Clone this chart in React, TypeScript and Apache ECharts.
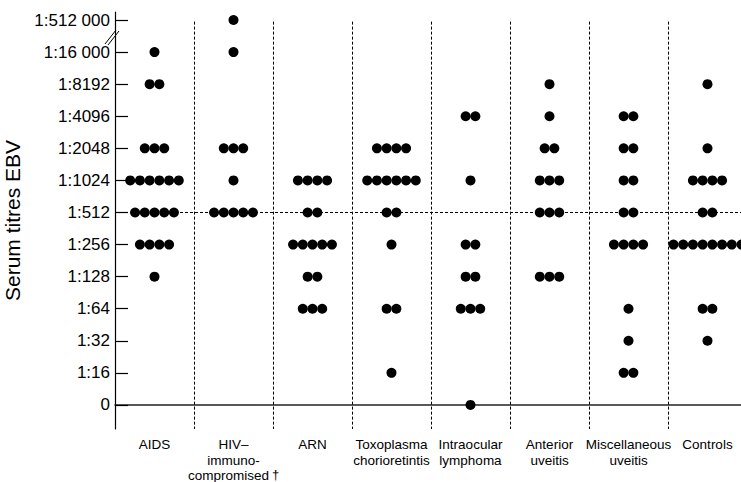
import React, { useEffect, useRef } from "react";
import * as echarts from "echarts";

// Titre levels (bottom to top)
const titreLabels = [
  "0", "1:16", "1:32", "1:64", "1:128", "1:256", "1:512",
  "1:1024", "1:2048", "1:4096", "1:8192", "1:16 000", "1:512 000",
];

const groupLabels = [
  "AIDS",
  "HIV–\nimmuno-\ncompromised{sup|†}",
  "ARN",
  "Toxoplasma\nchorioretintis",
  "Intraocular\nlymphoma",
  "Anterior\nuveitis",
  "Miscellaneous\nuveitis",
  "Controls",
];

// Number of patients at each titre level (index matches titreLabels)
const aids = [0, 0, 0, 0, 1, 4, 5, 6, 3, 0, 2, 1, 0];
const hiv = [0, 0, 0, 0, 0, 0, 5, 1, 3, 0, 0, 1, 1];
const arn = [0, 0, 0, 3, 2, 5, 2, 4, 0, 0, 0, 0, 0];
const toxoplasma = [0, 1, 0, 2, 0, 1, 2, 6, 4, 0, 0, 0, 0];
const lymphoma = [1, 0, 0, 3, 2, 2, 0, 1, 0, 2, 0, 0, 0];
const anterior = [0, 0, 0, 0, 3, 0, 3, 3, 2, 1, 1, 0, 0];
const misc = [0, 2, 1, 1, 0, 4, 2, 2, 2, 2, 0, 0, 0];
const controls = [0, 0, 1, 2, 0, 8, 2, 4, 1, 0, 1, 0, 0];

const groupCounts = [aids, hiv, arn, toxoplasma, lymphoma, anterior, misc, controls];

const DOT_STEP = 0.123; // horizontal spacing between stacked dots, in group units

export default function App() {
  const ref = useRef<HTMLDivElement>(null);

  useEffect(() => {
    if (!ref.current) return;
    const chart = echarts.init(ref.current, null, { renderer: "svg" });

    const points: number[][] = [];
    groupCounts.forEach((counts, g) => {
      counts.forEach((n, level) => {
        for (let i = 0; i < n; i++) {
          points.push([g + 0.5 + (i - (n - 1) / 2) * DOT_STEP, level]);
        }
      });
    });

    const font = "'Liberation Sans', Arial, Helvetica, sans-serif";
    const levelValues = titreLabels.map((_, i) => i);
    const centerValues = groupLabels.map((_, i) => i + 0.5);
    const dashStyle = { color: "#000", width: 1, type: [3, 2] as any };

    const vLines = [1, 2, 3, 4, 5, 6, 7].map((x) => [
      { coord: [x, 11.95] },
      { coord: [x, -0.75] },
    ]);

    chart.setOption({
      animation: false,
      backgroundColor: "#fff",
      grid: {
        left: 115,
        top: 12,
        width: 632,
        height: 417,
        containLabel: false,
        outerBoundsMode: "none",
      },
      xAxis: {
        type: "value",
        min: 0,
        max: 8,
        axisLine: { show: true, lineStyle: { color: "#222", width: 1.5 } },
        axisTick: { show: false },
        splitLine: { show: false },
        axisLabel: {
          customValues: centerValues,
          formatter: (v: number) => groupLabels[Math.floor(v)],
          color: "#000",
          fontFamily: font,
          fontSize: 13.5,
          lineHeight: 15.5,
          margin: 8,
          rich: {
            sup: {
              fontFamily: font,
              fontSize: 13,
              lineHeight: 15.5,
              verticalAlign: "top",
              padding: [0, 0, 8, 3],
              color: "#000",
            },
          },
        },
      },
      yAxis: {
        type: "value",
        min: -0.75,
        max: 12.25,
        name: "Serum titres EBV",
        nameLocation: "middle",
        nameGap: 80,
        nameTextStyle: { fontFamily: font, fontSize: 21, color: "#000" },
        axisLine: { show: true, lineStyle: { color: "#000", width: 1.2 } },
        axisTick: {
          show: true,
          inside: true,
          length: 13,
          customValues: levelValues,
          lineStyle: { color: "#000", width: 1.2 },
        },
        splitLine: { show: false },
        axisLabel: {
          customValues: levelValues,
          formatter: (v: number) => titreLabels[Math.round(v)],
          color: "#000",
          fontFamily: font,
          fontSize: 17,
          margin: 5,
        },
      },
      graphic: [
        {
          type: "line",
          shape: { x1: 105, y1: 44, x2: 116, y2: 30 },
          style: { stroke: "#000", lineWidth: 1 },
        },
        {
          type: "line",
          shape: { x1: 108, y1: 45, x2: 119, y2: 31 },
          style: { stroke: "#000", lineWidth: 1 },
        },
      ],
      series: [
        {
          type: "scatter",
          data: points,
          symbol: "circle",
          symbolSize: 10,
          itemStyle: { color: "#000", opacity: 1 },
          silent: true,
          markLine: {
            silent: true,
            symbol: ["none", "none"],
            label: { show: false },
            lineStyle: dashStyle,
            data: [...vLines, { yAxis: 6 }],
          },
        },
      ],
    });

    return () => chart.dispose();
  }, []);

  return (
    <div
      ref={ref}
      style={{ position: "absolute", left: 0, top: 0, width: 741, height: 482, background: "#fff" }}
    />
  );
}
